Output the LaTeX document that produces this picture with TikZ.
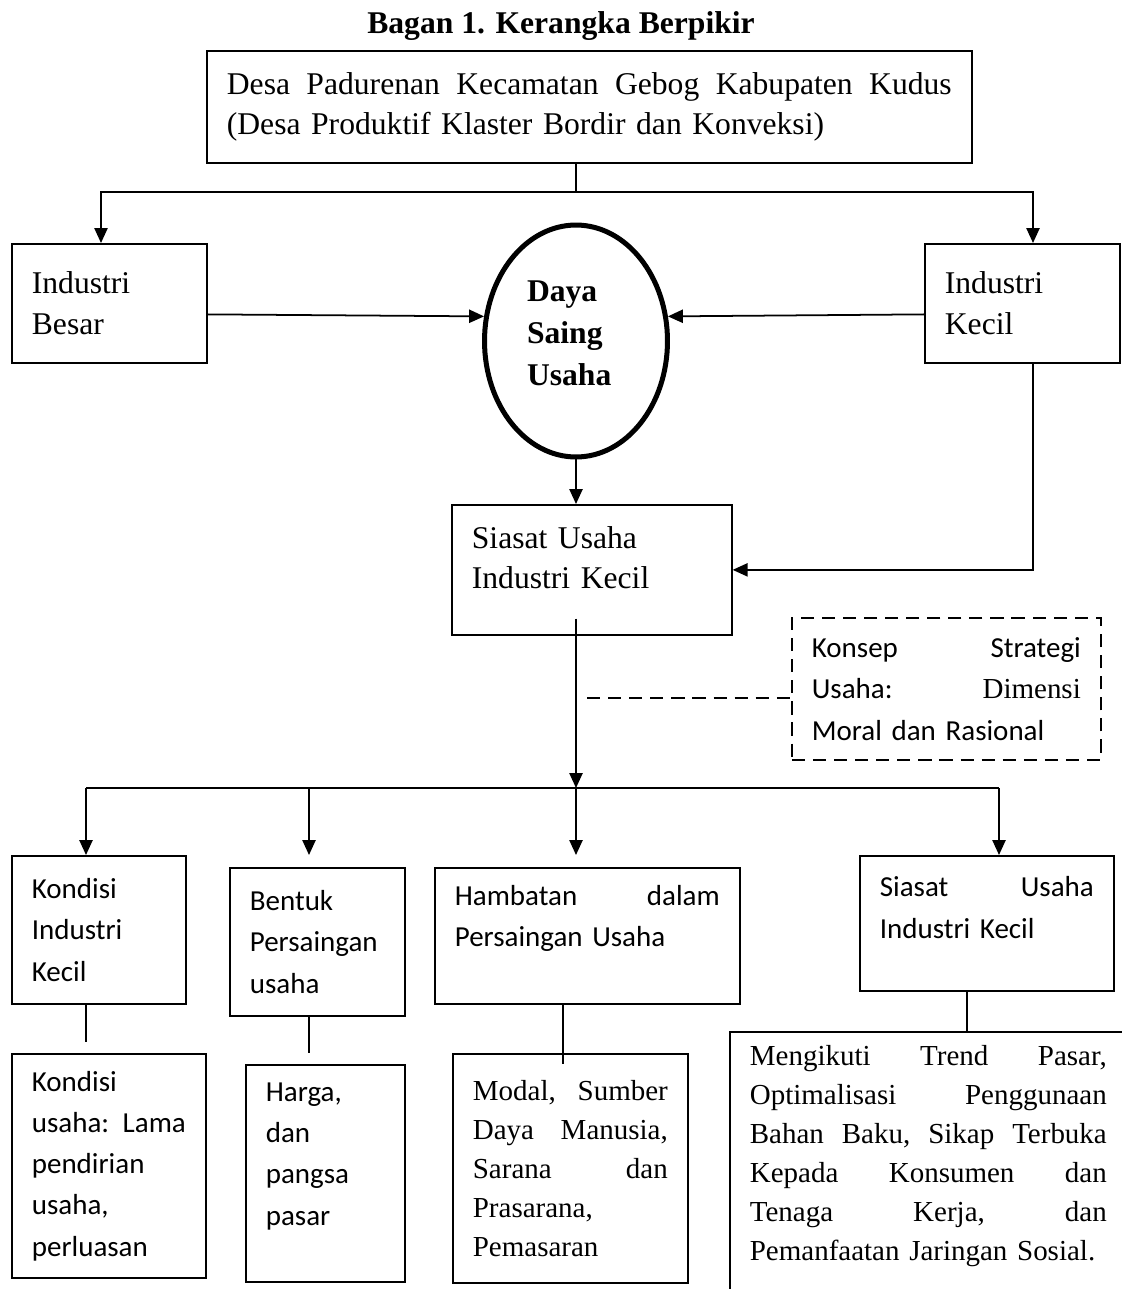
\documentclass[tikz,border=0pt]{standalone}
\usepackage{fontspec}
\setmainfont{Liberation Serif}
\newfontfamily\calibri{Carlito}
\usetikzlibrary{arrows.meta, positioning, shapes.geometric, calc}

\begin{document}
\begin{tikzpicture}[x=0.02cm, y=-0.02cm,
            box/.style={draw, line width=1pt, anchor=north west,
                        inner xsep=0.4cm, inner ysep=2pt, align=left},
            dbox/.style={box, dash pattern=on 7.5pt off 4.5pt},
            bigserif/.style={font=\fontsize{18}{23}\selectfont},
            serif/.style={font=\fontsize{16.5}{22.2}\selectfont},
            sans/.style={font=\calibri\fontsize{16.5}{23.5}\selectfont},
            raisetext/.style={execute at end node={\rule[-#1]{0pt}{#1}}},
            arr/.style={-{Triangle[length=8.5pt, width=7.5pt]}, line width=1pt},
            link/.style={line width=1pt},
            dline/.style={line width=1pt, dash pattern=on 7.5pt off 4.5pt}]

            \useasboundingbox (0,0) rectangle (1122,1289);

            %% ── Upper part ────────────────────────────────────────────────
            \node[font=\bfseries\fontsize{18}{23}\selectfont] (title) at (561,26)
                {Bagan 1. Kerangka Berpikir};
            \node[box, bigserif, minimum width=15.3cm, minimum height=2.24cm,
                  text width=14.5cm] (desa) at (206,50)
                {Desa\hfill Padurenan\hfill Kecamatan\hfill Gebog\hfill Kabupaten\hfill Kudus\\
                 (Desa Produktif Klaster Bordir dan Konveksi)};
            \node[box, bigserif, minimum width=3.9cm, minimum height=2.38cm,
                  text width=3.1cm] (besar) at (11,243) {Industri\\Besar};
            \node[box, bigserif, minimum width=3.9cm, minimum height=2.38cm,
                  text width=3.1cm] (kecil) at (924,243) {Industri\\Kecil};
            \node[ellipse, draw, line width=2.85pt, inner sep=0pt,
                  minimum width=3.66cm, minimum height=4.64cm, align=left,
                  text width=1.96cm,
                  font=\bfseries\fontsize{18}{24}\selectfont, raisetext=9pt]
                  (daya) at (576,341) {Daya\\Saing\\Usaha};
            \node[box, bigserif, minimum width=5.6cm, minimum height=2.6cm,
                  text width=4.8cm, raisetext=14pt] (siasat) at (451,504)
                {Siasat Usaha\\Industri Kecil};
            \node[dbox, sans, minimum width=6.18cm, minimum height=2.84cm,
                  text width=5.38cm] (konsep) at (791,617)
                {Konsep\hfill Strategi\\
                 Usaha:\hfill {\rmfamily\fontsize{16.5}{23.5}\selectfont Dimensi}\\
                 Moral dan Rasional};

            %% ── Lower part ────────────────────────────────────────────────
            \node[box, sans, minimum width=3.48cm, minimum height=2.96cm,
                  text width=2.68cm] (kondisi) at (11,855)
                {Kondisi\\Industri\\Kecil};
            \node[box, sans, minimum width=3.5cm, minimum height=2.96cm,
                  text width=2.7cm] (bentuk) at (229,867)
                {Bentuk\\Persaingan\\usaha};
            \node[box, sans, minimum width=6.1cm, minimum height=2.72cm,
                  text width=5.3cm, raisetext=23pt] (hambatan) at (434,867)
                {Hambatan\hfill dalam\\Persaingan Usaha};
            \node[box, sans, minimum width=5.08cm, minimum height=2.7cm,
                  text width=4.28cm, raisetext=18pt] (siasatkecil) at (859,855)
                {Siasat\hfill Usaha\\Industri Kecil};

            \node[box, sans, minimum width=3.88cm, minimum height=4.48cm,
                  text width=3.08cm] (kondisiusaha) at (11,1053)
                {Kondisi\\usaha:\hfill Lama\\pendirian\\usaha,\\perluasan};
            \node[box, sans, minimum width=3.18cm, minimum height=4.34cm,
                  text width=2.38cm, raisetext=22pt] (harga) at (245,1064)
                {Harga,\\dan\\pangsa\\pasar};
            \node[box, serif, minimum width=4.7cm, minimum height=4.58cm,
                  text width=3.9cm] (modal) at (452,1053)
                {Modal,\hfill Sumber\\Daya\hfill Manusia,\\Sarana\hfill dan\\
                 Prasarana,\\Pemasaran};
            \node[box, serif, minimum width=7.94cm, minimum height=5.38cm,
                  text width=7.14cm, raisetext=15pt] (strategi) at (729,1031)
                {Mengikuti\hfill Trend\hfill Pasar,\\
                 Optimalisasi\hfill Penggunaan\\
                 Bahan\hfill Baku,\hfill Sikap\hfill Terbuka\\
                 Kepada\hfill Konsumen\hfill dan\\
                 Tenaga\hfill Kerja,\hfill dan\\
                 Pemanfaatan Jaringan Sosial.};

            %% ── Forks ─────────────────────────────────────────────────────
            \coordinate (fork1)   at (576,192);
            \coordinate (lfork)   at (101,192);
            \coordinate (rfork)   at (1033,192);
            \coordinate (fork2)   at (576,788);
            \coordinate (bar1)    at (86,788);
            \coordinate (bar2)    at (309,788);
            \coordinate (bar4)    at (999,788);
            \coordinate (dashend) at (587,698);
            \coordinate (hdrop)   at ([shift={(-24.5,0)}]hambatan.south);
            \coordinate (sdrop)   at ([shift={(-20,0)}]siasatkecil.south);

            %% ── Connectors ────────────────────────────────────────────────
            \draw[link] (fork1 |- desa.south) -- (fork1);
            \draw[arr] (fork1) -- (lfork) -- (lfork |- besar.north);
            \draw[arr] (fork1) -- (rfork) -- (rfork |- kecil.north);

            \draw[arr] ([shift={(0,11)}]besar.east) -- (daya.165);
            \draw[arr] ([shift={(0,11)}]kecil.west) -- (daya.15);
            \draw[arr] (daya.south) -- (daya.south |- siasat.north);
            \draw[arr] ([shift={(11,0)}]kecil.south) |- (siasat.east);

            \draw[arr] ($(siasat.south -| fork2)+(0,-17)$) -- (fork2);
            \draw[dline] (dashend) -- (dashend -| konsep.west);

            \draw[link] (bar1) -- (bar4);
            \draw[arr] (bar1) -- (bar1 |- kondisi.north);
            \draw[arr] (bar2) -- ($(bar2 |- bentuk.north)+(0,-12)$);
            \draw[arr] (fork2) -- ($(fork2 |- hambatan.north)+(0,-12)$);
            \draw[arr] (bar4) -- (bar4 |- siasatkecil.north);

            \draw[link] (bar1 |- kondisi.south) -- ($(bar1 |- kondisiusaha.north)+(0,-11)$);
            \draw[link] (bar2 |- bentuk.south) -- ($(bar2 |- harga.north)+(0,-11)$);
            \draw[link] (hdrop) -- ($(hdrop |- modal.north)+(0,11)$);
            \draw[link] (sdrop) -- (sdrop |- strategi.north);

        \end{tikzpicture}
\end{document}
